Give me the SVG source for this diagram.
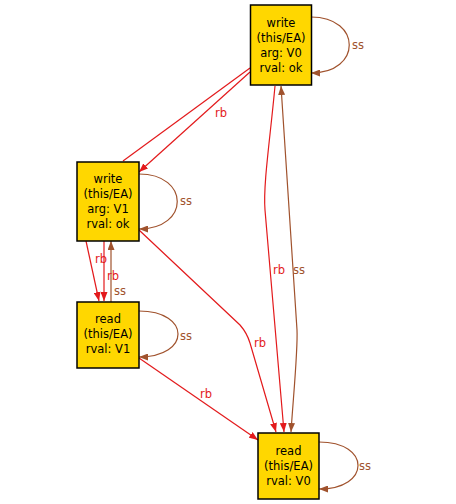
<svg xmlns="http://www.w3.org/2000/svg" width="456" height="504" viewBox="0 0 456 504">
<style>
.node rect{fill:#ffd700;stroke:#000;stroke-width:1.5}
.node text{font-family:"DejaVu Sans",sans-serif;font-size:11.5px;text-anchor:middle;fill:#000}
.rb{fill:none;stroke:#e31a1c;stroke-width:1.2}
.ss{fill:none;stroke:#a0522d;stroke-width:1.2}
.lrb{font-family:"DejaVu Sans",sans-serif;font-size:11.5px;fill:#e31a1c}
.lss{font-family:"DejaVu Sans",sans-serif;font-size:11.5px;fill:#a0522d}
</style>
<defs>
<marker id="ar" markerWidth="9" markerHeight="7" refX="9" refY="3.5" orient="auto" markerUnits="userSpaceOnUse"><path d="M0,0 L9,3.5 L0,7 z" fill="#e31a1c"/></marker>
<marker id="as" markerWidth="9" markerHeight="7" refX="9" refY="3.5" orient="auto" markerUnits="userSpaceOnUse"><path d="M0,0 L9,3.5 L0,7 z" fill="#a0522d"/></marker>
<marker id="as0" markerWidth="9" markerHeight="7" refX="0" refY="3.5" orient="auto" markerUnits="userSpaceOnUse"><path d="M9,0 L0,3.5 L9,7 z" fill="#a0522d"/></marker>
</defs>
<g id="connectors">
<path class="rb" d="M250,68 L123,161"/>
<path class="rb" d="M250,72 L139,172" marker-end="url(#ar)"/>
<text class="lrb" x="215" y="117">rb</text>
<path class="rb" d="M86,241 L99,301" marker-end="url(#ar)"/>
<path class="rb" d="M104,241 L104,301" marker-end="url(#ar)"/>
<path class="ss" d="M111,302 L111,241" marker-end="url(#as)"/>
<text class="lrb" x="95" y="263">rb</text>
<text class="lrb" x="107" y="280">rb</text>
<text class="lss" x="114" y="295">ss</text>
<path class="ss" d="M311,17 C362,17 362,73 311,73" marker-end="url(#as)"/>
<text class="lss" x="352" y="49">ss</text>
<path class="ss" d="M139,174 C190,174 190,229 139,229" marker-end="url(#as)"/>
<text class="lss" x="180" y="205">ss</text>
<path class="ss" d="M139,311 C191,311 191,357 139,357" marker-end="url(#as)"/>
<text class="lss" x="180" y="340">ss</text>
<path class="ss" d="M319,442 C371,442 371,489 319,489" marker-end="url(#as)"/>
<text class="lss" x="359" y="470">ss</text>
<path class="rb" d="M275,86 C270,140 263,185 265,210 L284,432" marker-end="url(#ar)"/>
<text class="lrb" x="273" y="274">rb</text>
<path class="ss" d="M291,432 C293,400 298,350 297,330 L281,86" marker-start="url(#as0)" marker-end="url(#as)"/>
<text class="lss" x="293" y="274">ss</text>
<path class="rb" d="M139,230 L240,325 Q247,333 250,343 L276,432" marker-end="url(#ar)"/>
<text class="lrb" x="254" y="347">rb</text>
<path class="rb" d="M139,358 L258,440" marker-end="url(#ar)"/>
<text class="lrb" x="200" y="398">rb</text>
</g>
<g id="nA" class="node"><rect x="250.5" y="5" width="61" height="80"/><text x="281" y="27">write</text><text x="281" y="42">(this/EA)</text><text x="281" y="57">arg: V0</text><text x="281" y="72">rval: ok</text></g>
<g id="nB" class="node"><rect x="77" y="162" width="62" height="79"/><text x="108" y="183">write</text><text x="108" y="198">(this/EA)</text><text x="108" y="213">arg: V1</text><text x="108" y="228">rval: ok</text></g>
<g id="nC" class="node"><rect x="77" y="302" width="62" height="66"/><text x="108" y="323">read</text><text x="108" y="338">(this/EA)</text><text x="108" y="353">rval: V1</text></g>
<g id="nD" class="node"><rect x="258" y="433" width="61" height="66"/><text x="288.5" y="455">read</text><text x="288.5" y="470">(this/EA)</text><text x="288.5" y="485">rval: V0</text></g>
</svg>
